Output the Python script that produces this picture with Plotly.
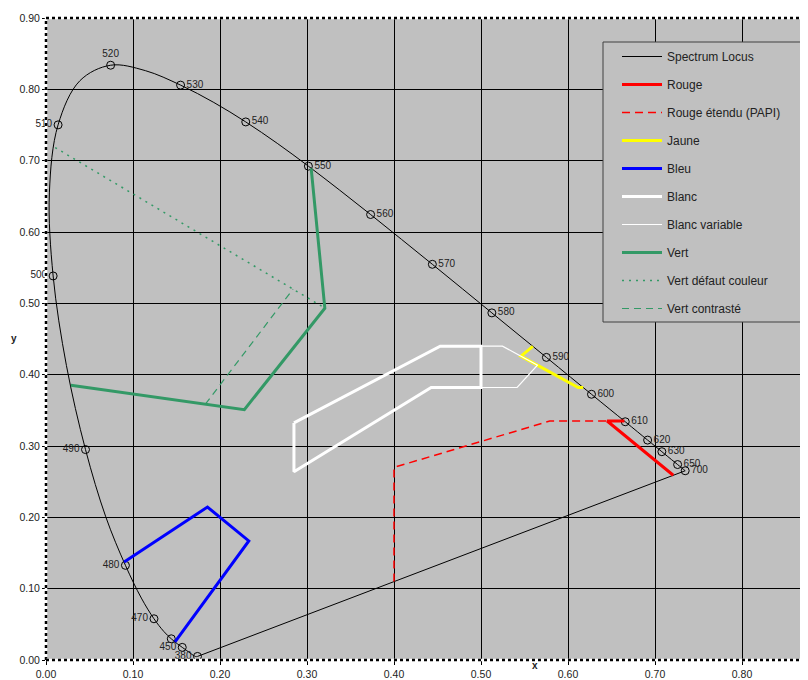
import plotly.graph_objects as go

# CIE 1931 spectrum locus (wavelength nm, x, y)
locus_nm = [380, 385, 390, 395, 400, 405, 410, 415, 420, 425, 430, 435, 440, 445, 450, 455,
            460, 465, 470, 475, 480, 485, 490, 495, 500, 505, 510, 515, 520, 525, 530, 535,
            540, 545, 550, 555, 560, 565, 570, 575, 580, 585, 590, 595, 600, 605, 610, 615,
            620, 625, 630, 635, 640, 645, 650, 655, 660, 665, 670, 700]
locus_x = [0.1741, 0.1740, 0.1738, 0.1736, 0.1733, 0.1730, 0.1726, 0.1721, 0.1714, 0.1703,
           0.1689, 0.1669, 0.1644, 0.1611, 0.1566, 0.1510, 0.1440, 0.1355, 0.1241, 0.1096,
           0.0913, 0.0687, 0.0454, 0.0235, 0.0082, 0.0039, 0.0139, 0.0389, 0.0743, 0.1142,
           0.1547, 0.1929, 0.2296, 0.2658, 0.3016, 0.3373, 0.3731, 0.4087, 0.4441, 0.4788,
           0.5125, 0.5448, 0.5752, 0.6029, 0.6270, 0.6482, 0.6658, 0.6801, 0.6915, 0.7006,
           0.7079, 0.7140, 0.7190, 0.7230, 0.7260, 0.7283, 0.7300, 0.7311, 0.7320, 0.7347]
locus_y = [0.0050, 0.0050, 0.0049, 0.0049, 0.0048, 0.0048, 0.0048, 0.0048, 0.0051, 0.0058,
           0.0069, 0.0086, 0.0109, 0.0138, 0.0177, 0.0227, 0.0297, 0.0399, 0.0578, 0.0868,
           0.1327, 0.2007, 0.2950, 0.4127, 0.5384, 0.6548, 0.7502, 0.8120, 0.8338, 0.8262,
           0.8059, 0.7816, 0.7543, 0.7243, 0.6923, 0.6589, 0.6245, 0.5896, 0.5547, 0.5202,
           0.4866, 0.4544, 0.4242, 0.3965, 0.3725, 0.3514, 0.3340, 0.3197, 0.3083, 0.2993,
           0.2920, 0.2859, 0.2809, 0.2770, 0.2740, 0.2717, 0.2700, 0.2689, 0.2680, 0.2653]

# Marked wavelengths and their labels
marked_nm = [380, 450, 460, 470, 480, 490, 500, 510, 520, 530, 540, 550, 560, 570, 580,
             590, 600, 610, 620, 630, 650, 700]
marked_labels = ["380", "450", "", "470", "480", "490", "500", "510", "520", "530", "540",
                 "550", "560", "570", "580", "590", "600", "610", "620", "630", "650", "700"]

# Colour zones (x, y vertices)
rouge_x = [0.6648, 0.645, 0.721]
rouge_y = [0.335, 0.335, 0.259]
rouge_papi_x = [0.400, 0.400, 0.579, 0.645]
rouge_papi_y = [0.110, 0.270, 0.335, 0.335]
jaune_x = [0.5596, 0.5459, 0.6117, 0.6175]
jaune_y = [0.4397, 0.4259, 0.3820, 0.3820]
bleu_x = [0.0898, 0.1856, 0.2331, 0.1483]
bleu_y = [0.1373, 0.2144, 0.1669, 0.0254]
blanc_x = [0.285, 0.4531, 0.500, 0.500, 0.4427, 0.285, 0.285]
blanc_y = [0.3324, 0.440, 0.440, 0.382, 0.382, 0.2638, 0.3324]
blanc_var_x = [0.500, 0.5247, 0.5649, 0.5415, 0.500]
blanc_var_y = [0.440, 0.440, 0.4132, 0.382, 0.382]
vert_x = [0.3048, 0.3205, 0.2280, 0.0286]
vert_y = [0.6893, 0.4932, 0.3510, 0.3852]
vert_defaut_x = [0.0106, 0.3206]
vert_defaut_y = [0.7183, 0.4933]
vert_contraste_x = [0.1832, 0.2839]
vert_contraste_y = [0.3587, 0.5199]

tick_vals = [0.0, 0.1, 0.2, 0.3, 0.4, 0.5, 0.6, 0.7, 0.8, 0.9]
tick_text = ["0.00", "0.10", "0.20", "0.30", "0.40", "0.50", "0.60", "0.70", "0.80", "0.90"]

GREEN = "#339966"
FONT = "Liberation Sans, Arial, sans-serif"
OFF = 8  # page body margin
W, H = 800, 672
ML, MR, MT, MB = 38, 0, 10, 20
PW, PH = W - ML - MR, H - MT - MB


def px_x(p):
    return (p - OFF - ML) / PW


def px_y(p):
    return (H - MB - (p - OFF)) / PH


fig = go.Figure()

# spectrum locus (smoothed) + purple line
fig.add_trace(go.Scatter(x=locus_x, y=locus_y, mode="lines", name="Spectrum Locus",
                         line=dict(color="black", width=1, shape="spline", smoothing=1.0),
                         legendgroup="a", legendrank=1))
fig.add_trace(go.Scatter(x=[locus_x[-1], locus_x[0]], y=[locus_y[-1], locus_y[0]],
                         mode="lines", showlegend=False, legendgroup="a",
                         line=dict(color="black", width=1)))

idx = {nm: i for i, nm in enumerate(locus_nm)}
mx = [locus_x[idx[n]] for n in marked_nm]
my = [locus_y[idx[n]] for n in marked_nm]
pos = []
for n in marked_nm:
    if n < 520:
        pos.append("middle left")
    elif n == 520:
        pos.append("top center")
    else:
        pos.append("middle right")
fig.add_trace(go.Scatter(x=mx, y=my, mode="markers+text", text=marked_labels,
                         textposition=pos, showlegend=False, cliponaxis=False,
                         textfont=dict(family=FONT, size=10, color="#222"),
                         marker=dict(symbol="circle-open", size=8, color="black",
                                     line=dict(width=1, color="black"))))

series = [
    ("Rouge", rouge_x, rouge_y, dict(color="#FF0000", width=3)),
    ("Rouge étendu (PAPI)", rouge_papi_x, rouge_papi_y, dict(color="#FF0000", width=1.5, dash="8px,5px")),
    ("Jaune", jaune_x, jaune_y, dict(color="#FFFF00", width=3)),
    ("Bleu", bleu_x, bleu_y, dict(color="#0000FF", width=3)),
    ("Blanc", blanc_x, blanc_y, dict(color="#FFFFFF", width=3)),
    ("Blanc variable", blanc_var_x, blanc_var_y, dict(color="#FFFFFF", width=1.2)),
    ("Vert", vert_x, vert_y, dict(color=GREEN, width=3)),
    ("Vert défaut couleur", vert_defaut_x, vert_defaut_y, dict(color=GREEN, width=1.5, dash="2px,5px")),
    ("Vert contrasté", vert_contraste_x, vert_contraste_y, dict(color=GREEN, width=1.2, dash="7px,5px")),
]
# draw Blanc variable below Blanc, keep legend order by rank
order = [0, 1, 2, 3, 5, 4, 6, 7, 8]
for i in order:
    name, xs, ys, ln = series[i]
    fig.add_trace(go.Scatter(x=xs, y=ys, mode="lines", name=name, line=ln,
                             legendgroup="g%d" % i, legendrank=10 + i))

# legend box (drawn as a shape behind the legend entries)
fig.add_shape(type="rect", xref="paper", yref="paper",
              x0=px_x(603), x1=px_x(802), y0=px_y(322), y1=px_y(42),
              fillcolor="#C0C0C0", line=dict(color="#404040", width=1), layer="above")

fig.update_layout(
    width=W, height=H,
    margin=dict(l=ML, r=MR, t=MT, b=MB),
    paper_bgcolor="white", plot_bgcolor="#C0C0C0",
    font=dict(family=FONT, size=11, color="#222"),
    xaxis=dict(range=[0, PW / 870.0], tickvals=tick_vals[:-1], ticktext=tick_text[:-1],
               showgrid=True, gridcolor="black", gridwidth=1, zeroline=False,
               ticks="outside", ticklen=4, tickcolor="black", automargin=False,
               tickfont=dict(family=FONT, size=10.5, color="#222"), showline=False),
    yaxis=dict(range=[0, 0.9], tickvals=tick_vals, ticktext=tick_text,
               showgrid=True, gridcolor="black", gridwidth=1, zeroline=False,
               ticks="outside", ticklen=3, tickcolor="black", automargin=False,
               tickfont=dict(family=FONT, size=10.5, color="#222"), showline=False),
    showlegend=True,
    legend=dict(x=px_x(617), y=px_y(42), xanchor="left", yanchor="top",
                bgcolor="rgba(0,0,0,0)", borderwidth=0,
                tracegroupgap=9, itemwidth=40,
                font=dict(family=FONT, size=12, color="#222")),
)

# dotted plot border (left, top, bottom)
for (x0, y0, x1, y1) in [(0, 0, 0, 1), (0, 1, 1, 1), (0, 0, 1, 0)]:
    fig.add_shape(type="line", xref="paper", yref="paper", x0=x0, y0=y0, x1=x1, y1=y1,
                  line=dict(color="white", width=2.5), layer="above")
    fig.add_shape(type="line", xref="paper", yref="paper", x0=x0, y0=y0, x1=x1, y1=y1,
                  line=dict(color="black", width=2.5, dash="dot"), layer="above")

fig.add_annotation(text="<b>x</b>", xref="paper", yref="paper", x=px_x(535),
                   y=px_y(665), showarrow=False, font=dict(family=FONT, size=10, color="#222"),
                   xanchor="center", yanchor="middle")
fig.add_annotation(text="<b>y</b>", xref="paper", yref="paper", x=px_x(14),
                   y=px_y(338), showarrow=False, font=dict(family=FONT, size=10, color="#222"),
                   xanchor="center", yanchor="middle")

fig.write_html("out.html")
